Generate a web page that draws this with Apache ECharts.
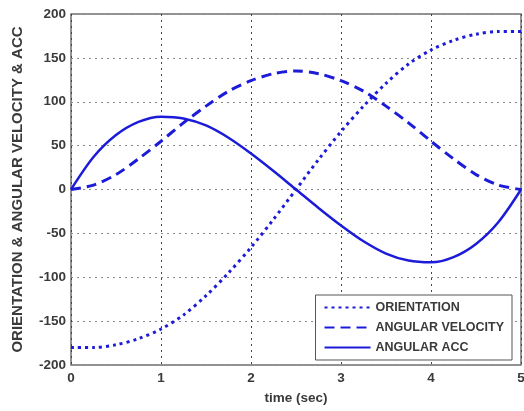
<!DOCTYPE html>
<html>
<head>
<meta charset="utf-8">
<script src="https://cdn.jsdelivr.net/npm/echarts@6/dist/echarts.min.js"></script>
<style>
  html, body { margin: 0; padding: 0; background: #fff; }
  #chart { width: 524px; height: 411px; }
</style>
</head>
<body>
<div id="chart"></div>
<script>
// time samples (sec)
var time = [0, 0.25, 0.5, 0.75, 1, 1.25, 1.5, 1.75, 2, 2.25, 2.5,
            2.75, 3, 3.25, 3.5, 3.75, 4, 4.25, 4.5, 4.75, 5];
// values
var orientation = [-180, -180, -177, -170, -159, -143, -121, -95, -66, -34, 0,
                   34, 66, 95, 121, 143, 159, 170, 177, 180, 180];
var angularVelocity = [0, 5, 17, 35, 55, 76, 95, 112, 124, 132, 135,
                       132, 124, 112, 95, 76, 55, 35, 17, 5, 0];
var angularAcc = [0, 37, 62, 77, 83, 81, 73, 59, 41, 21, 0,
                  -21, -41, -59, -73, -81, -83, -77, -62, -37, 0];
var yTicks = [-200, -150, -100, -50, 0, 50, 100, 150, 200];

function pairs(ys) {
  return time.map(function (t, i) { return [t, ys[i]]; });
}

var blue = '#1c1cd8';
var labelFont = { fontFamily: 'Arial', fontWeight: 'bold', fontSize: 13.5, color: '#3a3a3a' };

var chartDom = document.getElementById('chart');
var myChart = echarts.init(chartDom);
var option = {
  animation: false,
  grid: {
    left: 71, right: 3, top: 14, bottom: 46,
    outerBoundsMode: 'none',
    show: true, borderColor: '#707070', borderWidth: 1.5, backgroundColor: '#fff'
  },
  legend: {
    orient: 'vertical',
    right: 12,
    top: 295,
    itemWidth: 46,
    itemHeight: 10,
    itemGap: 7,
    padding: [6, 8, 6, 8],
    borderColor: '#555',
    borderWidth: 1,
    backgroundColor: '#fff',
    itemStyle: { opacity: 0 },
    textStyle: { fontFamily: 'Arial', fontWeight: 'bold', fontSize: 12.5, color: '#3a3a3a' },
    data: ['ORIENTATION', 'ANGULAR VELOCITY', 'ANGULAR ACC']
  },
  xAxis: {
    type: 'value',
    min: 0, max: 5, interval: 1,
    name: 'time (sec)',
    nameLocation: 'middle',
    nameGap: 26,
    nameTextStyle: labelFont,
    axisLine: { show: false },
    axisTick: { show: false },
    axisLabel: Object.assign({ margin: 6 }, labelFont),
    splitLine: { show: true, lineStyle: { color: '#444', type: [2, 4], width: 1 } }
  },
  yAxis: {
    type: 'value',
    min: yTicks[0], max: yTicks[yTicks.length - 1], interval: 50,
    name: 'ORIENTATION & ANGULAR VELOCITY & ACC',
    nameLocation: 'middle',
    nameGap: 46,
    nameTextStyle: { fontFamily: 'Arial', fontWeight: 'bold', fontSize: 15, color: '#3a3a3a' },
    axisLine: { show: false },
    axisTick: { show: false },
    axisLabel: Object.assign({ margin: 5 }, labelFont),
    splitLine: { show: true, lineStyle: { color: '#8a8a8a', type: [2, 4], width: 1 } }
  },
  series: [
    {
      name: 'ORIENTATION',
      type: 'line',
      smooth: 0.3,
      symbol: 'none',
      data: pairs(orientation),
      lineStyle: { color: blue, width: 3, type: [3, 4] },
      itemStyle: { color: blue }
    },
    {
      name: 'ANGULAR VELOCITY',
      type: 'line',
      smooth: 0.3,
      symbol: 'none',
      data: pairs(angularVelocity),
      lineStyle: { color: blue, width: 3, type: [10, 6] },
      itemStyle: { color: blue }
    },
    {
      name: 'ANGULAR ACC',
      type: 'line',
      smooth: 0.3,
      symbol: 'none',
      data: pairs(angularAcc),
      lineStyle: { color: blue, width: 2.5 },
      itemStyle: { color: blue }
    }
  ]
};
myChart.setOption(option);
</script>
</body>
</html>
